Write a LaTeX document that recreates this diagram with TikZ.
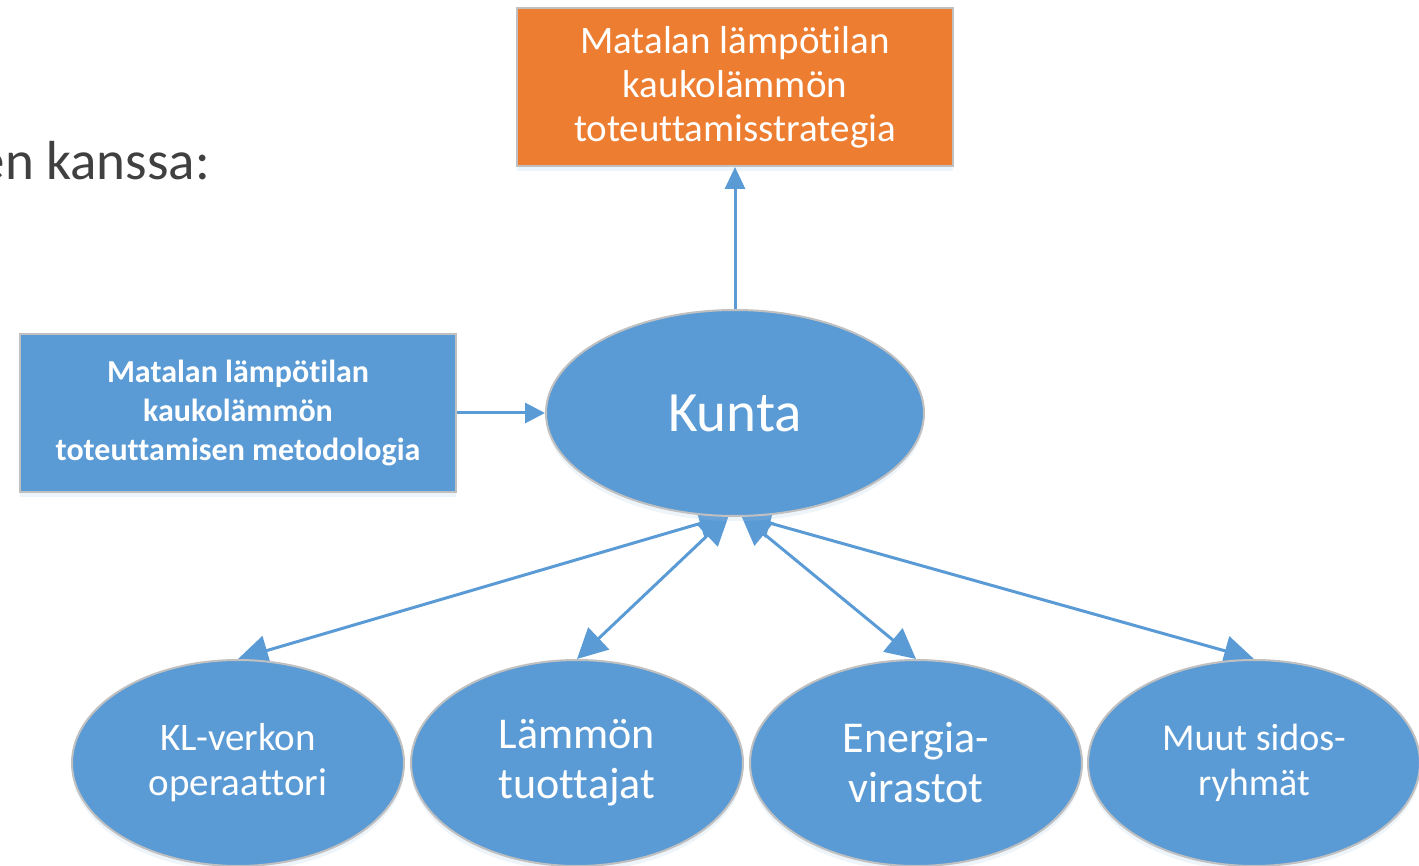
\documentclass[tikz,border=0pt]{standalone}
\usepackage{fontspec}
\setmainfont{Carlito}[Ligatures=NoCommon]
\usetikzlibrary{arrows.meta,shadows,calc,shapes.geometric}
\pgfdeclarelayer{background}
\pgfsetlayers{background,main}
\definecolor{bl}{HTML}{5B9BD5}
\definecolor{orng}{HTML}{ED7D31}
\definecolor{brd}{HTML}{C0C0C0}
\definecolor{txtgray}{HTML}{404040}
\tikzset{
  shade/.style={drop shadow={shadow xshift=0pt,shadow yshift=-5pt,opacity=0.18,fill=bl!60}},
  box/.style={rectangle,draw=brd,line width=2pt,text=white,align=center,inner sep=0pt,shade},
  oval/.style={ellipse,draw=brd,line width=2pt,fill=bl,text=white,align=center,inner sep=0pt,shade},
  conn/.style={draw=bl,line width=3pt},
  dbl/.style={conn,{Triangle[length=30pt,width=30pt]}-{Triangle[length=30pt,width=30pt]}},
}
\begin{document}
\begin{tikzpicture}[x=1pt,y=-1pt]
\useasboundingbox (0,0) rectangle (1419,866);
\clip (0,0) rectangle (1419,866);
% heading fragment
\node[anchor=base east,text=txtgray,font=\fontsize{55}{60}\selectfont,inner sep=0pt] (head) at (210,180) {en kanssa:};
% top box
\node[box,fill=orng,minimum width=436pt,minimum height=158pt,font=\fontsize{39}{44}\selectfont] (strat) at (735,87)
  {Matalan lämpötilan\\kaukolämmön\\toteuttamisstrategia};
% left box
\node[box,fill=bl,minimum width=436pt,minimum height=158pt,font=\bfseries\fontsize{32}{39}\selectfont] (method) at (238,413)
  {Matalan lämpötilan\\kaukolämmön\\toteuttamisen metodologia};
% Kunta
\node[oval,minimum width=378pt,minimum height=206pt,font=\fontsize{57}{60}\selectfont] (kunta) at (735,413) {Kunta};
% bottom ellipses
\node[oval,minimum width=332pt,minimum height=206pt,font=\fontsize{39}{45}\selectfont] (e1) at (238,763) {\raisebox{-5pt}{KL-verkon}\\\raisebox{-5pt}{operaattori}};
\node[oval,minimum width=332pt,minimum height=206pt,font=\fontsize{44}{50}\selectfont] (e2) at (577,763) {\raisebox{-5pt}{Lämmön}\\\raisebox{-5pt}{tuottajat}};
\node[oval,minimum width=332pt,minimum height=206pt,font=\fontsize{44}{50}\selectfont] (e3) at (916,763) {Energia-\\virastot};
\node[oval,minimum width=332pt,minimum height=206pt,font=\fontsize{38}{45}\selectfont] (e4) at (1254,763) {\raisebox{-5pt}{Muut sidos-}\\\raisebox{-5pt}{ryhmät}};
% connectors
\begin{pgfonlayer}{background}
\coordinate (kl) at ($(kunta.south)+(-6,-2)$);
\coordinate (kr) at ($(kunta.south)+(6,-2)$);
\draw[dbl] (kl) -- (e1.north);
\draw[dbl] (kl) -- (e2.north);
\draw[dbl] (kr) -- (e3.north);
\draw[dbl] (kr) -- (e4.north);
\end{pgfonlayer}
\draw[conn,-{Triangle[length=20pt,width=20pt]}] (method.east) -- (kunta.west);
\draw[conn,-{Triangle[length=22pt,width=20pt]}] (kunta.north) -- (strat.south);
\end{tikzpicture}
\end{document}
